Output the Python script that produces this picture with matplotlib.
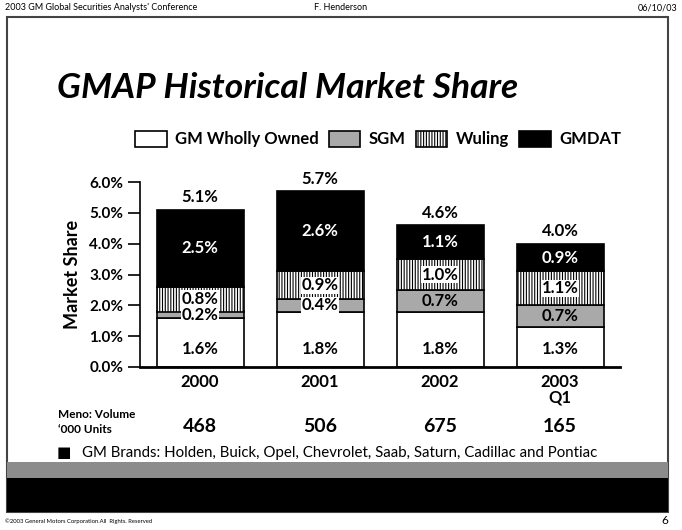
import matplotlib
matplotlib.use('Agg')
import matplotlib.pyplot as plt
from matplotlib.patches import Rectangle, Patch
from matplotlib.transforms import blended_transform_factory

# Data
years = ["2000", "2001", "2002", "2003\nQ1"]
gm_wholly = [1.6, 1.8, 1.8, 1.3]
sgm = [0.2, 0.4, 0.7, 0.7]
wuling = [0.8, 0.9, 1.0, 1.1]
gmdat = [2.5, 2.6, 1.1, 0.9]
totals = [5.1, 5.7, 4.6, 4.0]
volume = ["468", "506", "675", "165"]
series_names = ["GM Wholly Owned", "SGM", "Wuling", "GMDAT"]

W, H = 682, 530
plt.rcParams['font.family'] = ['Lato', 'DejaVu Sans']
plt.rcParams['hatch.linewidth'] = 0.8

fig = plt.figure(figsize=(W / 100, H / 100), dpi=100)


def px(x, y):
    # pixel coords (from top-left) -> figure fraction
    return x / W, 1 - y / H


# page frame and bottom bands
fig.patches.append(Rectangle(px(7, 512), 661 / W, 495 / H, transform=fig.transFigure,
                             facecolor='white', edgecolor='#444444', lw=1.5, zorder=-2))
fig.patches.append(Rectangle(px(7, 478), 661 / W, 16 / H, transform=fig.transFigure,
                             facecolor='#8c8c8c', edgecolor='none', zorder=-1))
fig.patches.append(Rectangle(px(7, 512), 661 / W, 34 / H, transform=fig.transFigure,
                             facecolor='black', edgecolor='none', zorder=-1))

# header / footer
fig.text(*px(5, 8), "2003 GM Global Securities Analysts' Conference", fontsize=6.5, va='center')
fig.text(*px(341, 8), "F. Henderson", fontsize=6.5, va='center', ha='center')
fig.text(*px(677, 8), "06/10/03", fontsize=6.5, va='center', ha='right')
fig.text(*px(5, 521), "\u00a92003 General Motors Corporation.All  Rights. Reserved", fontsize=4.2, va='center')
fig.text(*px(668, 520), "6", fontsize=8.5, va='center', ha='right')

# title
fig.text(*px(57, 88), "GMAP Historical Market Share", fontsize=25.5, fontweight='bold',
         fontstyle='italic', va='center')

# chart
ax = fig.add_axes([140 / W, 1 - 367 / H, 480 / W, 185 / H])
ax.set_zorder(2)
ax.patch.set_visible(False)
x = range(len(years))
width = 0.725
colors = ['white', '#a9a9a9', 'white', 'black']
hatches = [None, None, '||||||', None]
layers = [gm_wholly, sgm, wuling, gmdat]
bottoms = [0.0] * len(years)
for k, vals in enumerate(layers):
    ax.bar(x, vals, width, bottom=bottoms, color=colors[k], edgecolor='black',
           hatch=hatches[k], linewidth=1.2, zorder=2)
    for i, v in enumerate(vals):
        yc = bottoms[i] + v / 2
        if k == 0:
            yc = bottoms[i] + min(v / 2, 0.6)
        txt_color = 'white' if k == 3 else 'black'
        box = None
        if k == 2 or v < 0.5:
            box = dict(facecolor='white', edgecolor='none', pad=0.5)
        ax.text(i, yc, f"{v:.1f}%", ha='center', va='center', fontsize=12,
                fontweight='bold', color=txt_color, bbox=box, zorder=3)
    bottoms = [b + v for b, v in zip(bottoms, vals)]

for i, t in enumerate(totals):
    ax.text(i, t + 0.4, f"{t:.1f}%", ha='center', va='center', fontsize=12,
            fontweight='bold', clip_on=False)

ax.set_xlim(-0.5, 3.5)
ax.set_ylim(0, 6)
ax.set_yticks([0, 1, 2, 3, 4, 5, 6])
ax.set_yticklabels([f"{v:.1f}%" for v in range(7)], fontsize=11, fontweight='bold')
ax.set_xticks(list(x))
ax.set_xticklabels(years, fontsize=12, fontweight='bold', linespacing=1.0)
ax.tick_params(axis='x', length=0, pad=5)
ax.tick_params(axis='y', length=9, width=1.2, direction='out', pad=3)
for s in ['top', 'right']:
    ax.spines[s].set_visible(False)
ax.spines['left'].set_linewidth(1.2)
ax.spines['bottom'].set_linewidth(2)
ax.set_ylabel("Market Share", fontsize=13, fontweight='bold', labelpad=6)

# legend
handles = [Patch(facecolor=colors[k], edgecolor='black', hatch=hatches[k], lw=1.2)
           for k in range(4)]
fig.legend(handles, series_names, loc='center', bbox_to_anchor=px(378, 139), ncol=4,
           frameon=False, handlelength=1.9, handleheight=1.1,
           columnspacing=0.6, handletextpad=0.5, prop={'weight': 'bold', 'size': 12})

# memo row
tr = blended_transform_factory(ax.transData, fig.transFigure)
fig.text(*px(58, 422), "Meno: Volume\n\u2018000 Units", fontsize=8.5, fontweight='bold',
         va='center', linespacing=1.35)
for i, v in enumerate(volume):
    ax.text(i, 1 - 427 / H, v, transform=tr, ha='center', va='center', fontsize=14,
            fontweight='bold')

# bullet
fig.text(*px(57, 453), "\u25a0", fontsize=11, va='center')
fig.text(*px(82, 453), "GM Brands: Holden, Buick, Opel, Chevrolet, Saab, Saturn, Cadillac and Pontiac",
         fontsize=10.8, va='center')

fig.savefig("out.png", dpi=100)
